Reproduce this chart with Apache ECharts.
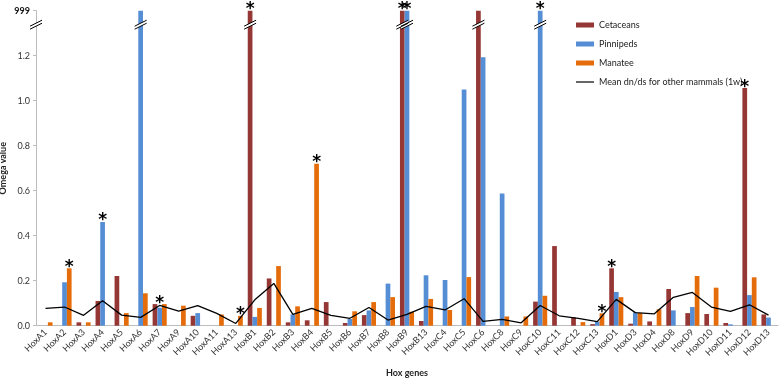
<!DOCTYPE html>
<html>
<head>
<meta charset="utf-8">
<script src="https://cdn.jsdelivr.net/npm/echarts@6/dist/echarts.min.js"></script>
<style>
  html, body { margin: 0; padding: 0; background: #fff; }
  #main { width: 779px; height: 379px; }
</style>
</head>
<body>
<div id="main"></div>
<script>
// Hox genes on the x axis
const genes = ['HoxA1','HoxA2','HoxA3','HoxA4','HoxA5','HoxA6','HoxA7','HoxA9','HoxA10','HoxA11','HoxA13',
  'HoxB1','HoxB2','HoxB3','HoxB4','HoxB5','HoxB6','HoxB7','HoxB8','HoxB9','HoxB13',
  'HoxC4','HoxC5','HoxC6','HoxC8','HoxC9','HoxC10','HoxC11','HoxC12','HoxC13',
  'HoxD1','HoxD3','HoxD4','HoxD8','HoxD9','HoxD10','HoxD11','HoxD12','HoxD13'];

// omega values, 999 = off the scale (drawn above the axis break)
const cetaceans = [0, 0, 0.015, 0.11, 0.221, 0, 0.096, 0, 0.044, 0, 0,
  999, 0.21, 0.015, 0.024, 0.105, 0.012, 0.047, 0, 999, 0.021,
  0, 0, 999, 0, 0, 0.107, 0.354, 0.037, 0.007,
  0.255, 0.009, 0.019, 0.163, 0.056, 0.052, 0.012, 1.056, 0.05];
const pinnipeds = [0, 0.193, 0, 0.461, 0, 999, 0.08, 0, 0.056, 0, 0,
  0.039, 0, 0.05, 0, 0, 0.03, 0.068, 0.187, 999, 0.224,
  0.203, 1.05, 1.193, 0.588, 0, 999, 0, 0, 0.018,
  0.15, 0.059, 0, 0.068, 0.083, 0, 0.006, 0.136, 0.036];
const manatee = [0.015, 0.255, 0.015, 0, 0.056, 0.144, 0.096, 0.089, 0, 0.05, 0.044,
  0.079, 0.265, 0.086, 0.72, 0, 0.064, 0.105, 0.127, 0.062, 0.119,
  0.07, 0.216, 0, 0.041, 0.041, 0.133, 0, 0.016, 0.055,
  0.127, 0.056, 0.073, 0, 0.221, 0.169, 0, 0.215, 0];
// mean dn/ds for other mammals (1w)
const meanOther = [0.077, 0.083, 0.046, 0.111, 0.047, 0.037, 0.09, 0.065, 0.089, 0.055, 0.01,
  0.115, 0.188, 0.05, 0.077, 0.046, 0.033, 0.081, 0.025, 0.05, 0.086,
  0.07, 0.12, 0.019, 0.028, 0.013, 0.09, 0.044, 0.033, 0.018,
  0.117, 0.058, 0.053, 0.126, 0.148, 0.083, 0.064, 0.093, 0.047];

// significant results: [gene, series index 0=cetaceans 1=pinnipeds 2=manatee]
const stars = [['HoxA2',2],['HoxA4',1],['HoxA7',1],['HoxA13',2],['HoxB1',0],['HoxB4',2],
  ['HoxB9',0],['HoxB9',1],['HoxC10',1],['HoxC13',2],['HoxD1',0],['HoxD12',0]];

const CAP = 1.4;      // where "999" sits on the axis
const BREAK = 1.34;   // where the // break is drawn
const BW = 4.7;       // bar width
const FONT = 'Lato, "Liberation Sans", sans-serif';
const colors = ['#953735', '#558ED5', '#E46C0A'];
const barSets = [cetaceans, pinnipeds, manatee];
const names = ['Cetaceans', 'Pinnipeds', 'Manatee'];

let capped = (v) => (v === 999 ? CAP : v);

let chart = echarts.init(document.getElementById('main'));
let option = {
  animation: false,
  color: colors,
  textStyle: { fontFamily: FONT },
  grid: { left: 36, right: 1, top: 10.7, bottom: 53.3, outerBoundsMode: 'none', containLabel: false },
  legend: {
    orient: 'vertical',
    left: 571,
    top: 14,
    itemWidth: 18,
    itemHeight: 5,
    itemGap: 7,
    textStyle: { fontSize: 9, color: '#222', fontFamily: FONT, lineHeight: 12 },
    data: [
      { name: 'Cetaceans', icon: 'rect' },
      { name: 'Pinnipeds', icon: 'rect' },
      { name: 'Manatee', icon: 'rect' },
      { name: 'Mean dn/ds for other mammals (1w)', icon: 'path://M0,2 L18,2 L18,3.2 L0,3.2 Z' }
    ]
  },
  xAxis: {
    type: 'category',
    data: genes,
    name: 'Hox genes',
    nameLocation: 'middle',
    nameGap: 43,
    nameMoveOverlap: false,
    nameTextStyle: { fontWeight: 'bold', fontSize: 9, color: '#222' },
    axisLine: { lineStyle: { color: '#bcbcbc' } },
    axisTick: { length: 4, lineStyle: { color: '#bcbcbc' } },
    axisLabel: { rotate: 45, fontSize: 9, color: '#333', margin: 5, interval: 0 }
  },
  yAxis: {
    type: 'value',
    min: 0,
    max: CAP,
    interval: 0.2,
    name: 'Omega value',
    nameLocation: 'middle',
    nameGap: 28,
    nameMoveOverlap: false,
    nameTextStyle: { fontWeight: 'bold', fontSize: 9, color: '#222' },
    splitLine: { show: false },
    axisLine: { show: true, lineStyle: { color: '#bcbcbc' } },
    axisTick: { show: true, length: 3, lineStyle: { color: '#bcbcbc' } },
    axisLabel: {
      fontSize: 9,
      color: '#333',
      margin: 6,
      formatter: (v) => (v >= CAP - 1e-6 ? '{b|999}' : v.toFixed(1)),
      rich: { b: { fontWeight: 'bold', fontSize: 9, color: '#111' } }
    }
  },
  series: [
    ...barSets.map((arr, s) => ({
      name: names[s],
      type: 'bar',
      barWidth: BW,
      barGap: '0%',
      data: arr.map(capped),
      itemStyle: { color: colors[s] }
    })),
    {
      name: 'Mean dn/ds for other mammals (1w)',
      type: 'line',
      data: meanOther,
      symbol: 'none',
      z: 5,
      lineStyle: { color: '#000', width: 1.3 },
      itemStyle: { color: '#000' }
    }
  ]
};
chart.setOption(option);

// axis breaks and asterisks, placed through the chart's own scales
let toPx = (i, v) => chart.convertToPixel({ xAxisIndex: 0, yAxisIndex: 0 }, [i, v]);
let breakMark = (cx, cy) => [
  { type: 'polygon', shape: { points: [[cx - 6, cy + 2], [cx + 6, cy - 4], [cx + 6, cy - 1], [cx - 6, cy + 5]] },
    style: { fill: '#fff' }, z: 20 },
  { type: 'line', shape: { x1: cx - 6, y1: cy + 2, x2: cx + 6, y2: cy - 4 }, style: { stroke: '#000', lineWidth: 1 }, z: 21 },
  { type: 'line', shape: { x1: cx - 6, y1: cy + 5, x2: cx + 6, y2: cy - 1 }, style: { stroke: '#000', lineWidth: 1 }, z: 21 }
];
let graphics = [];
let axisPt = toPx(0, BREAK);
graphics.push(...breakMark(chart.convertToPixel({ xAxisIndex: 0 }, 0) - 9.5, axisPt[1]));
barSets.forEach((arr, s) => {
  arr.forEach((v, i) => {
    if (v === 999) {
      let p = toPx(i, BREAK);
      graphics.push(...breakMark(p[0] + (s - 1) * BW, p[1]));
    }
  });
});
stars.forEach(([g, s]) => {
  let i = genes.indexOf(g);
  let top = Math.max(...barSets.map((a) => capped(a[i])));
  let p = toPx(i, top);
  graphics.push({
    type: 'text',
    x: p[0] + (s - 1) * BW,
    y: p[1] - 1,
    z: 30,
    style: { text: '*', fontSize: 17, fontWeight: 'bold', fill: '#000', align: 'center', verticalAlign: 'middle', fontFamily: '"DejaVu Sans", sans-serif' }
  });
});
chart.setOption({ graphic: graphics });
</script>
</body>
</html>
